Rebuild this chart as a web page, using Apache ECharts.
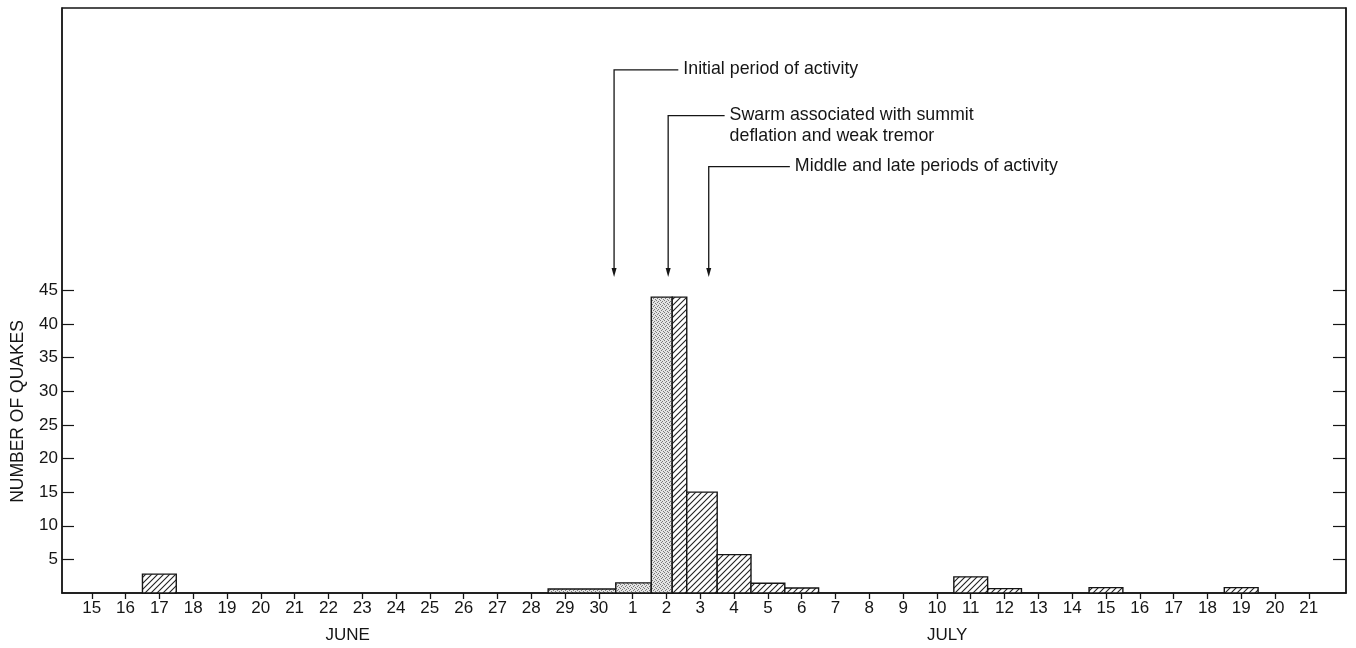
<!DOCTYPE html>
<html>
<head>
<meta charset="utf-8">
<script src="https://cdn.jsdelivr.net/npm/echarts@6/dist/echarts.min.js"></script>
<style>
html,body{margin:0;padding:0;background:#fff;}
#chart{width:1356px;height:648px;}
</style>
</head>
<body>
<div id="chart"></div>
<script>
// ---- Data ----
// Day tick labels (June 15 .. July 21), index 0 = June 15
const dayLabels = ['15','16','17','18','19','20','21','22','23','24','25','26','27','28','29','30',
  '1','2','3','4','5','6','7','8','9','10','11','12','13','14','15','16','17','18','19','20','21'];
const monthLabels = ['JUNE', 'JULY'];
const monthCenters = [7.57, 25.3];
const yTicks = [5, 10, 15, 20, 25, 30, 35, 40, 45];

// Histogram bins (in day-index units) and number of quakes
const binStart = [1.5, 13.5, 15.5, 16.55, 17.17, 17.6, 18.5, 19.5, 20.5, 25.5, 26.5, 29.5, 33.5];
const binEnd   = [2.5, 15.5, 16.55, 17.17, 17.6, 18.5, 19.5, 20.5, 21.5, 26.5, 27.5, 30.5, 34.5];
const quakes   = [2.8, 0.6, 1.5, 44, 44, 15, 5.7, 1.45, 0.75, 2.4, 0.65, 0.8, 0.8];
const binKind  = ['hatch','stipple','stipple','stipple','hatch','hatch','hatch','hatch','hatch','hatch','hatch','hatch','hatch'];

// Annotation arrows (x in day-index units, y in quake units)
const annotX    = [15.45, 17.05, 18.25];
const annotTop  = [77.8, 71.0, 63.4];
const annotEnd  = [17.35, 18.72, 20.65];
const annotTip  = [47.0, 47.0, 47.0];
const annotText = ['Initial period of activity',
  'Swarm associated with summit\ndeflation and weak tremor',
  'Middle and late periods of activity'];

// ---- Patterns ----
function makeHatch() {
  const c = document.createElement('canvas');
  c.width = 6; c.height = 6;
  const g = c.getContext('2d');
  g.fillStyle = '#ffffff'; g.fillRect(0, 0, 6, 6);
  g.strokeStyle = '#222'; g.lineWidth = 1.1;
  g.beginPath();
  g.moveTo(-1, 7); g.lineTo(7, -1);
  g.moveTo(-4, 4); g.lineTo(4, -4);
  g.moveTo(2, 10); g.lineTo(10, 2);
  g.stroke();
  return c;
}
function makeStipple() {
  const c = document.createElement('canvas');
  c.width = 4; c.height = 4;
  const g = c.getContext('2d');
  g.fillStyle = '#e4e4e4'; g.fillRect(0, 0, 4, 4);
  g.fillStyle = '#7a7a7a';
  const dots = [[0,0],[2,1],[1,2],[3,3]];
  dots.forEach(d => g.fillRect(d[0], d[1], 1, 1));
  return c;
}
const hatchPat = { type: 'pattern', image: makeHatch(), repeat: 'repeat' };
const stipplePat = { type: 'pattern', image: makeStipple(), repeat: 'repeat' };

const barData = binStart.map((s, i) => [s, binEnd[i], quakes[i], binKind[i] === 'hatch' ? 1 : 0]);
const annotData = annotX.map((x, i) => [x, annotTop[i], annotEnd[i], annotTip[i], i]);

const FONT = '"Liberation Sans", Arial, Helvetica, sans-serif';
const INK = '#151515';
const FS = 17;

const chart = echarts.init(document.getElementById('chart'), null, { renderer: 'canvas' });

chart.setOption({
  animation: false,
  backgroundColor: '#ffffff',
  grid: { left: 62, right: 10, top: 8, bottom: 55, show: true, borderColor: INK, borderWidth: 1.3 },
  xAxis: {
    type: 'value', min: -0.88, max: 37.1,
    axisLine: { show: true, onZero: false, lineStyle: { color: INK, width: 1.5 } },
    axisTick: { show: true, inside: false, length: 6, customValues: dayLabels.map((d, i) => i), lineStyle: { color: INK, width: 1.3 } },
    axisLabel: { show: true, customValues: dayLabels.map((d, i) => i), margin: 7, color: INK, fontSize: FS, fontFamily: FONT,
      formatter: v => dayLabels[Math.round(v)] },
    splitLine: { show: false }
  },
  yAxis: [{
    type: 'value', min: 0, max: 87, position: 'left',
    axisLine: { show: true, onZero: false, lineStyle: { color: INK, width: 1.5 } },
    axisTick: { show: true, inside: true, length: 12, customValues: yTicks, lineStyle: { color: INK, width: 1.2 } },
    axisLabel: { show: true, customValues: yTicks, margin: 4, color: INK, fontSize: FS, fontFamily: FONT },
    splitLine: { show: false }
  }, {
    type: 'value', min: 0, max: 87, position: 'right',
    axisLine: { show: true, onZero: false, lineStyle: { color: INK, width: 1.5 } },
    axisTick: { show: true, inside: true, length: 13, customValues: yTicks, lineStyle: { color: INK, width: 1.2 } },
    axisLabel: { show: false },
    splitLine: { show: false }
  }],
  series: [{
    type: 'custom',
    data: barData,
    renderItem: function (params, api) {
      const s = api.value(0), e = api.value(1), v = api.value(2), k = api.value(3);
      const p0 = api.coord([s, 0]);
      const p1 = api.coord([e, v]);
      return {
        type: 'rect',
        shape: { x: p0[0], y: p1[1], width: p1[0] - p0[0], height: p0[1] - p1[1] },
        style: { fill: k === 1 ? hatchPat : stipplePat, stroke: INK, lineWidth: 1.4 }
      };
    },
    z: 3
  }, {
    type: 'custom',
    data: annotData,
    clip: false,
    renderItem: function (params, api) {
      const x = api.value(0), top = api.value(1), end = api.value(2), tip = api.value(3), idx = api.value(4);
      const pTop = api.coord([x, top]);
      const pEnd = api.coord([end, top]);
      const pTip = api.coord([x, tip]);
      return {
        type: 'group',
        children: [{
          type: 'polyline',
          shape: { points: [[pEnd[0], pTop[1]], [pTop[0], pTop[1]], [pTip[0], pTip[1] - 7]] },
          style: { stroke: INK, lineWidth: 1.3, fill: null }
        }, {
          type: 'polygon',
          shape: { points: [[pTip[0] - 2.5, pTip[1] - 9], [pTip[0] + 2.5, pTip[1] - 9], [pTip[0], pTip[1]]] },
          style: { fill: INK }
        }, {
          type: 'text',
          style: {
            x: pEnd[0] + 5, y: pTop[1] - 11,
            text: annotText[idx],
            fill: INK, font: '17.8px ' + FONT,
            align: 'left', verticalAlign: 'top', lineHeight: 21
          }
        }]
      };
    },
    z: 4
  }]
});

// Month labels and rotated y-axis title, positioned through the axis scales
const monthGraphics = monthLabels.map((m, i) => ({
  type: 'text',
  x: chart.convertToPixel({ xAxisIndex: 0 }, monthCenters[i]),
  y: 635,
  style: { text: m, fill: INK, font: FS + 'px ' + FONT, align: 'center', verticalAlign: 'middle' }
}));
const titleY = chart.convertToPixel({ yAxisIndex: 0 }, 27);
chart.setOption({
  graphic: monthGraphics.concat([{
    type: 'text',
    x: 18, y: titleY, rotation: Math.PI / 2,
    style: { text: 'NUMBER OF QUAKES', fill: INK, font: '17.5px ' + FONT, align: 'center', verticalAlign: 'middle' }
  }])
});
</script>
</body>
</html>
